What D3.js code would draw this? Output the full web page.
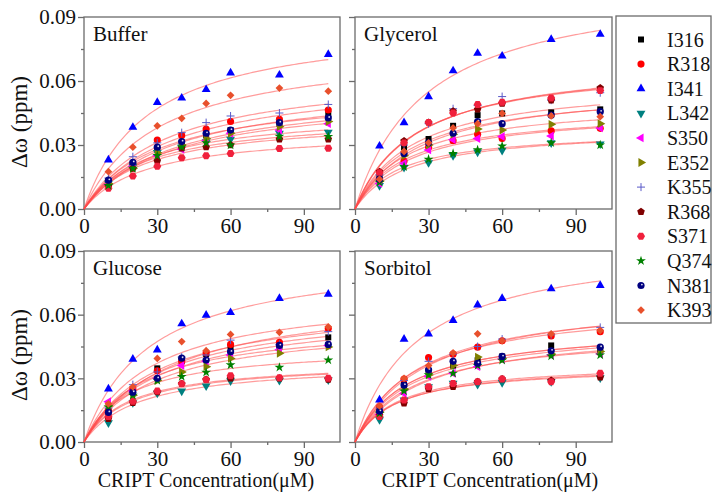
<!DOCTYPE html>
<html lang="en">
<head>
<meta charset="utf-8">
<title>CRIPT titration</title>
<script src="https://cdn.jsdelivr.net/npm/d3@7"></script>
<style>
  body { margin: 0; background: #fff; }
  text { font-family: "Liberation Serif", "Times New Roman", serif; fill: #111; }
</style>
</head>
<body>
<script>
// CRIPT concentrations (uM)
const conc = [10, 20, 30, 40, 50, 60, 80, 100];
const residues = ["I316", "R318", "I341", "L342", "S350", "E352", "K355", "R368", "S371", "Q374", "N381", "K393"];
const xTicks = [0, 30, 60, 90];
const yTicks = [0, 0.03, 0.06, 0.09];

// chemical shift changes (ppm), one row per residue, same order as residues
const buffer = [
  [0.013, 0.021, 0.028, 0.031, 0.0345, 0.037, 0.040, 0.0445],
  [0.012, 0.021, 0.0323, 0.0345, 0.0375, 0.041, 0.042, 0.0464],
  [0.023, 0.0383, 0.050, 0.052, 0.056, 0.0638, 0.0628, 0.0725],
  [0.012, 0.020, 0.0264, 0.029, 0.0315, 0.0327, 0.0355, 0.036],
  [0.0115, 0.020, 0.025, 0.028, 0.032, 0.0355, 0.037, 0.040],
  [0.012, 0.019, 0.0264, 0.030, 0.033, 0.0355, 0.0386, 0.041],
  [0.0145, 0.0245, 0.031, 0.0358, 0.0405, 0.0436, 0.045, 0.049],
  [0.0105, 0.019, 0.0225, 0.0285, 0.029, 0.030, 0.0327, 0.0327],
  [0.0097, 0.0155, 0.020, 0.024, 0.025, 0.026, 0.0284, 0.0285],
  [0.011, 0.019, 0.025, 0.029, 0.031, 0.030, 0.034, 0.0339],
  [0.0135, 0.0219, 0.029, 0.0316, 0.0355, 0.037, 0.0405, 0.0427],
  [0.0175, 0.029, 0.039, 0.0425, 0.0495, 0.0533, 0.0567, 0.0552]
];
const glycerol = [
  [0.015, 0.029, 0.0328, 0.039, 0.044, 0.0448, 0.0453, 0.0467],
  [0.0135, 0.0225, 0.029, 0.032, 0.035, 0.033, 0.0366, 0.0378],
  [0.0295, 0.0405, 0.0527, 0.0648, 0.073, 0.0717, 0.0795, 0.0819],
  [0.011, 0.0195, 0.0217, 0.025, 0.0267, 0.0275, 0.031, 0.0305],
  [0.012, 0.0214, 0.0277, 0.0325, 0.033, 0.034, 0.0342, 0.038],
  [0.013, 0.025, 0.030, 0.035, 0.0375, 0.037, 0.0397, 0.040],
  [0.016, 0.030, 0.040, 0.047, 0.0485, 0.0527, 0.051, 0.0545],
  [0.0175, 0.0319, 0.0406, 0.0458, 0.0467, 0.0494, 0.051, 0.0567],
  [0.017, 0.031, 0.0406, 0.045, 0.049, 0.050, 0.052, 0.0555],
  [0.0125, 0.0198, 0.0233, 0.026, 0.0277, 0.0295, 0.031, 0.030],
  [0.014, 0.026, 0.031, 0.0355, 0.041, 0.040, 0.044, 0.0456],
  [0.014, 0.027, 0.031, 0.038, 0.040, 0.0448, 0.0436, 0.0433]
];
const glucose = [
  [0.014, 0.024, 0.0347, 0.038, 0.0415, 0.0443, 0.045, 0.0493],
  [0.015, 0.025, 0.0336, 0.038, 0.042, 0.046, 0.047, 0.0535],
  [0.025, 0.039, 0.0434, 0.0557, 0.0598, 0.061, 0.0677, 0.0697],
  [0.009, 0.0185, 0.023, 0.024, 0.0264, 0.0288, 0.029, 0.0293],
  [0.019, 0.024, 0.030, 0.036, 0.038, 0.041, 0.0435, 0.0455],
  [0.017, 0.022, 0.029, 0.033, 0.0355, 0.0394, 0.0418, 0.0448],
  [0.016, 0.027, 0.033, 0.040, 0.041, 0.048, 0.046, 0.052],
  [0.011, 0.0185, 0.0235, 0.0275, 0.0294, 0.030, 0.030, 0.0295],
  [0.012, 0.0192, 0.024, 0.0275, 0.0294, 0.0312, 0.0303, 0.030],
  [0.0165, 0.022, 0.029, 0.0308, 0.0328, 0.0363, 0.0352, 0.0386],
  [0.014, 0.0235, 0.030, 0.0395, 0.0386, 0.0425, 0.0455, 0.046],
  [0.018, 0.026, 0.0394, 0.0473, 0.043, 0.0507, 0.0517, 0.0543]
];
const sorbitol = [
  [0.015, 0.027, 0.0332, 0.036, 0.0385, 0.0403, 0.0455, 0.0427],
  [0.0165, 0.0296, 0.0398, 0.0414, 0.0447, 0.0477, 0.050, 0.052],
  [0.0198, 0.0485, 0.0509, 0.0573, 0.0646, 0.0677, 0.0722, 0.0738],
  [0.0105, 0.0198, 0.026, 0.0276, 0.0271, 0.028, 0.0284, 0.0302],
  [0.013, 0.0229, 0.031, 0.0324, 0.0355, 0.039, 0.041, 0.0415],
  [0.014, 0.025, 0.0316, 0.036, 0.040, 0.0395, 0.0415, 0.0427],
  [0.016, 0.029, 0.038, 0.0414, 0.045, 0.0485, 0.0505, 0.054],
  [0.0125, 0.0183, 0.025, 0.026, 0.0284, 0.0297, 0.029, 0.0305],
  [0.012, 0.0198, 0.026, 0.0276, 0.0284, 0.0297, 0.0284, 0.0324],
  [0.0135, 0.024, 0.0316, 0.0324, 0.036, 0.0385, 0.0405, 0.041],
  [0.0145, 0.0268, 0.034, 0.038, 0.0371, 0.0403, 0.043, 0.0447],
  [0.017, 0.030, 0.036, 0.042, 0.051, 0.0477, 0.051, 0.0525]
];

const colors = ["#000000", "#ff0000", "#0000ff", "#008080", "#ff00ff", "#808000",
                "#5a5ac8", "#800000", "#f0203c", "#008000", "#000080", "#e8502c"];

const svg = d3.select("body").append("svg")
  .attr("width", 714)
  .attr("height", 493);

const panels = [
  { title: "Buffer",   data: buffer,   x0: 84,  y0: 17,  x1: 340, y1: 209, yLab: true },
  { title: "Glycerol", data: glycerol, x0: 355, y0: 17,  x1: 612, y1: 209, yLab: false },
  { title: "Glucose",  data: glucose,  x0: 84,  y0: 251, x1: 340, y1: 442, yLab: true },
  { title: "Sorbitol", data: sorbitol, x0: 355, y0: 251, x1: 612, y1: 442, yLab: false }
];

// simple one-site fit  y = Bmax*x/(Kd+x)
function fit(xs, ys) {
  let best = null;
  for (let kd = 1; kd <= 300; kd += 0.5) {
    let num = 0, den = 0;
    xs.forEach((x, i) => { const f = x / (kd + x); num += ys[i] * f; den += f * f; });
    const b = num / den;
    let sse = 0;
    xs.forEach((x, i) => { const r = ys[i] - b * x / (kd + x); sse += r * r; });
    if (!best || sse < best.sse) best = { kd, b, sse };
  }
  return best;
}

function polyPath(n, r, rot) {
  const pts = d3.range(n).map(i => {
    const a = rot + i * 2 * Math.PI / n;
    return [r * Math.cos(a), r * Math.sin(a)];
  });
  return "M" + pts.map(p => p.join(",")).join("L") + "Z";
}

// draws one marker of residue k at (0,0) in group g
function marker(g, k) {
  const c = colors[k];
  const sym = (type, size, rot) => g.append("path")
    .attr("d", d3.symbol().type(type).size(size)())
    .attr("transform", rot ? "rotate(" + rot + ")" : null)
    .attr("fill", c);
  switch (k) {
    case 0: sym(d3.symbolSquare, 36); break;
    case 1: sym(d3.symbolCircle, 40); break;
    case 2: sym(d3.symbolTriangle, 34); break;
    case 3: sym(d3.symbolTriangle, 34, 180); break;
    case 4: sym(d3.symbolTriangle, 34, -90); break;
    case 5: sym(d3.symbolTriangle, 34, 90); break;
    case 6:
      g.append("path").attr("d", "M-4,0H4M0,-4V4")
        .attr("stroke", c).attr("stroke-width", 1);
      break;
    case 7: g.append("path").attr("d", polyPath(5, 4, -Math.PI / 2)).attr("fill", c); break;
    case 8: g.append("path").attr("d", polyPath(6, 4, 0)).attr("fill", c); break;
    case 9: sym(d3.symbolStar, 30); break;
    case 10:
      g.append("circle").attr("r", 3.6).attr("fill", c);
      g.append("circle").attr("cx", 0.9).attr("cy", -0.9).attr("r", 0.9)
        .attr("fill", "#fff").attr("opacity", 0.85);
      break;
    case 11: sym(d3.symbolSquare, 30, 45); break;
  }
}

const fontFam = "'Liberation Serif', 'Times New Roman', serif";

panels.forEach(p => {
  const x = d3.scaleLinear().domain([0, 104.8]).range([p.x0, p.x1]);
  const y = d3.scaleLinear().domain([0, 0.09]).range([p.y1, p.y0]);
  const g = svg.append("g");

  // frame
  g.append("rect")
    .attr("x", p.x0).attr("y", p.y0)
    .attr("width", p.x1 - p.x0).attr("height", p.y1 - p.y0)
    .attr("fill", "none").attr("stroke", "#6b6b6b").attr("stroke-width", 1.3);

  // minor ticks
  const xMinor = d3.axisBottom(x).tickValues([15, 45, 75]).tickSize(3).tickFormat("");
  const yMinor = d3.axisLeft(y).tickValues([0.015, 0.045, 0.075]).tickSize(3).tickFormat("");
  g.append("g").attr("transform", "translate(0," + p.y1 + ")").call(xMinor);
  g.append("g").attr("transform", "translate(" + p.x0 + ",0)").call(yMinor);

  const xAxis = d3.axisBottom(x).tickValues(xTicks).tickSize(6).tickSizeOuter(0).tickPadding(3);
  const yAxis = d3.axisLeft(y).tickValues(yTicks).tickSize(6).tickSizeOuter(0).tickPadding(2)
    .tickFormat(p.yLab ? d3.format(".2f") : "");
  g.append("g").attr("transform", "translate(0," + p.y1 + ")").call(xAxis);
  g.append("g").attr("transform", "translate(" + p.x0 + ",0)").call(yAxis);

  g.selectAll(".domain").remove();
  g.selectAll(".tick line").attr("stroke", "#6b6b6b").attr("stroke-width", 1.3);
  g.selectAll(".tick text").attr("font-family", fontFam).attr("font-size", 21).attr("fill", "#111");

  // title
  g.append("text").attr("x", p.x0 + 9).attr("y", p.y0 + 24)
    .attr("font-size", 21).text(p.title);

  // fitted curves
  const line = d3.line().x(d => x(d[0])).y(d => y(d[1]));
  p.data.forEach(vals => {
    const f = fit(conc, vals);
    const pts = d3.range(0, 100.5, 1).map(c => [c, f.b * c / (f.kd + c)]);
    g.append("path").attr("d", line(pts))
      .attr("fill", "none").attr("stroke", "#ff4a4a")
      .attr("stroke-opacity", 0.55).attr("stroke-width", 1.2);
  });

  // data points
  p.data.forEach((vals, k) => {
    vals.forEach((v, i) => {
      const m = g.append("g").attr("transform", "translate(" + x(conc[i]) + "," + y(v) + ")");
      marker(m, k);
    });
  });
});

// axis titles
[122, 355].forEach(cy => {
  svg.append("text")
    .attr("transform", "translate(27," + cy + ") rotate(-90)")
    .attr("text-anchor", "middle").attr("font-size", 23)
    .text("Δω (ppm)");
});
[206, 490].forEach(cx => {
  svg.append("text")
    .attr("x", cx).attr("y", 487)
    .attr("text-anchor", "middle").attr("font-size", 20)
    .text("CRIPT Concentration(μM)");
});

// legend
svg.append("rect")
  .attr("x", 616).attr("y", 16).attr("width", 95).attr("height", 307)
  .attr("fill", "#fff").attr("stroke", "#6b6b6b").attr("stroke-width", 1.3);
residues.forEach((r, k) => {
  const cy = 39.5 + k * 24.6;
  marker(svg.append("g").attr("transform", "translate(641," + cy + ")"), k);
  svg.append("text").attr("x", 667).attr("y", cy + 7)
    .attr("font-size", 20).text(r);
});
</script>
</body>
</html>
